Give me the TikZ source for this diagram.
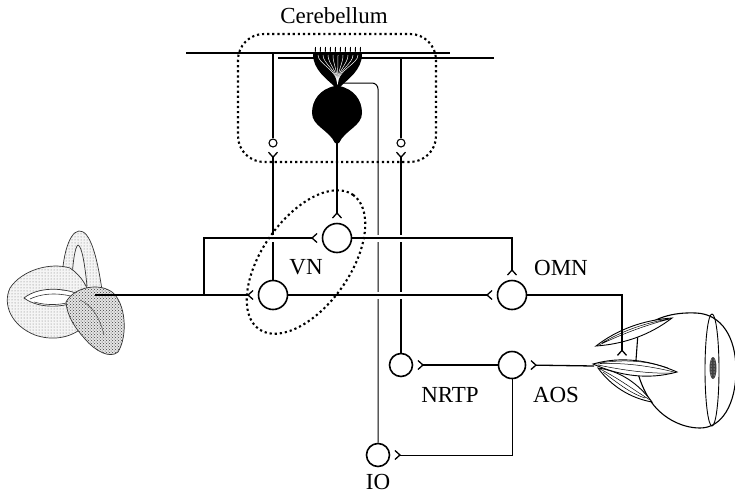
\documentclass[tikz,border=0pt]{standalone}
\usepackage{fontspec}
\setmainfont{Liberation Serif}
\usetikzlibrary{arrows.meta,patterns}
\begin{document}
\begin{tikzpicture}[x=1pt,y=-1pt,
  cell/.style={circle,draw,line width=1.6pt,inner sep=0pt,minimum size=#1},
  cell/.default=29pt,
  granule/.style={circle,draw,line width=1.1pt,inner sep=0pt,minimum size=8pt},
  syn/.style={-{Straight Barb[reversed,length=5pt,width=9pt,line width=1.3pt]},shorten >=4pt},
  gap/.style={preaction={draw=white,line width=7pt,arrows=-,shorten <=#1,shorten >=#1}},
  gap/.default=12pt,
  dotline/.style={line width=2.1pt,dash pattern=on 2.2pt off 2.9pt},
  lbl/.style={font=\fontsize{23}{26}\selectfont,inner sep=0pt},
  axon/.style={line width=2pt},
  fiber/.style={line width=1.3pt},
  thinfiber/.style={line width=1pt},
  tissue/.style={draw=black!80,line width=0.7pt,preaction={fill=black!4},pattern=dots,pattern color=black!55},
  darktissue/.style={draw=black!80,line width=0.7pt,preaction={fill=black!10},pattern=crosshatch dots,pattern color=black!75},
  muscle/.style={draw,fill=white,line width=0.9pt},
]
\useasboundingbox (0,0) rectangle (735,498);

% ---- labyrinth (inner ear) ----
\path[tissue,even odd rule]
  (62,290) .. controls (61,262) and (68,232) .. (79,231) .. controls (90,230) and (97,256) .. (102,290) -- cycle
  (72,286) .. controls (72,266) and (75,246) .. (78,245) .. controls (82,246) and (85,266) .. (87,286) -- cycle;
\path[tissue,even odd rule]
  (70,268) .. controls (50,262) and (22,270) .. (10,288) .. controls (2,305) and (12,326) .. (35,335)
  .. controls (52,341) and (70,338) .. (82,328) .. controls (95,316) and (95,285) .. (70,268) -- cycle
  (24,298) .. controls (40,285) and (70,288) .. (84,297) .. controls (70,308) and (40,310) .. (24,298) -- cycle;
\draw[black!80,line width=0.6pt] (30,299) .. controls (45,292) and (62,293) .. (78,298)
  (34,302) .. controls (48,306) and (62,305) .. (74,301);
\path[darktissue]
  (66,302) .. controls (75,286) and (100,283) .. (112,292) .. controls (126,303) and (128,336) .. (118,352)
  .. controls (110,359) and (95,351) .. (85,339) .. controls (75,328) and (67,316) .. (66,302) -- cycle;
\draw[black!70,line width=0.5pt] (80,300) .. controls (92,305) and (100,318) .. (104,335);

% ---- eye with extra-ocular muscles ----
\draw[line width=1.1pt,fill=white]
  (638,333) .. controls (652,318) and (672,312) .. (696,313) .. controls (722,314) and (736,338) .. (736,370)
  .. controls (736,404) and (722,428) .. (700,428) .. controls (680,428) and (660,416) .. (650,400)
  .. controls (643,390) and (636,372) .. (636,360) -- cycle;
\draw[line width=0.9pt] (712,370) ellipse [x radius=7, y radius=56];
\fill[black!75] (713,368) ellipse [x radius=3.5, y radius=11];
\path[pattern=dots,pattern color=white] (713,368) ellipse [x radius=3.5, y radius=11];
\draw[muscle] (598,368) .. controls (620,371) and (638,383) .. (652,402) .. controls (630,398) and (611,386) .. cycle;
\draw[line width=0.5pt] (600,369) .. controls (618,378) and (634,390) .. (650,400)
                        (603,372) .. controls (620,385) and (632,394) .. (645,398);
\draw[muscle] (593,364) .. controls (621,356) and (650,360) .. (677,372) .. controls (648,380) and (620,376) .. cycle;
\draw[line width=0.5pt] (596,364) .. controls (622,362) and (650,366) .. (674,372)
                        (598,365) .. controls (622,370) and (650,374) .. (672,373)
                        (600,363) .. controls (624,359) and (648,361) .. (668,368);
\draw[muscle] (596,346) .. controls (618,329) and (644,320) .. (672,318) .. controls (650,335) and (624,344) .. cycle;
\draw[line width=0.5pt] (599,345) .. controls (620,335) and (645,325) .. (670,319)
                        (602,343) .. controls (624,330) and (646,323) .. (668,319);

% ---- parallel fibres ----
\coordinate (pf1a) at (186,53);  \coordinate (pf1b) at (450,53);
\coordinate (pf2a) at (278,58);  \coordinate (pf2b) at (494,58);
\draw[fiber] (pf1a) -- (pf1b);
\draw[fiber] (pf2a) -- (pf2b);

% ---- Purkinje cell ----
\fill (313,54) .. controls (313,70) and (327,79) .. (335,87) -- (340,87) .. controls (348,79) and (362,70) .. (362,54) -- cycle;
\foreach \x in {318,323,...,358}
  \draw[white,line width=0.5pt] (337.5,84) .. controls (337.5,70) and (\x,64) .. (\x,55);
\foreach \x in {315,320,...,360}
  \draw[line width=0.9pt] (\x,57) -- (\x+0.5,47);
\fill (335,86) .. controls (320,89) and (312,100) .. (312,113) .. controls (312,126) and (329,130) .. (335,143)
  -- (339,143) .. controls (345,130) and (362,126) .. (362,113) .. controls (362,100) and (354,89) .. (339,86) -- cycle;
\coordinate (neck) at (340,83);
\coordinate (pkax) at (337,140);

% ---- cell bodies ----
\node[cell] (vnU) at (337,238) {};
\node[cell] (vnL) at (273,295) {};
\node[cell] (omn) at (512,295) {};
\node[cell=23pt] (nrtp) at (401,365) {};
\node[cell=27pt] (aos) at (512,365) {};
\node[cell=23pt] (io) at (378,455) {};
\node[granule] (grL) at (273,143) {};
\node[granule] (grR) at (401,143) {};

% ---- vertical fibres ----
\draw[fiber,syn] (vnL.north) -- (grL.south);
\draw[fiber] (grL.north) -- (grL |- pf1a);
\draw[fiber,syn] (nrtp.north) -- (grR.south);
\draw[fiber] (grR.north) -- (grR |- pf2a);
\draw[thinfiber,rounded corners=6pt] (io.north) |- (neck);
\draw[axon,syn] (pkax) -- (vnU.north);

% ---- horizontal connections ----
\coordinate (ear) at (95,295);
\coordinate (split) at (204,295);
\draw[line width=1.5pt,syn,gap=10pt] (split) |- (vnU.west);
\draw[axon,syn,gap=10pt] (vnU.east) -| (omn.north);
\draw[axon,syn,gap] (vnL.east) -- (omn.west);
\draw[line width=2.4pt,-{Straight Barb[reversed,length=5pt,width=9pt,line width=1.3pt]},shorten >=4pt] (ear) -- (vnL.west);

\coordinate (eyeM) at (622,360);
\coordinate (eyeR) at (594,366);
\draw[line width=1.4pt,syn] (omn.east) -| (eyeM);
\draw[fiber,syn] (eyeR) -- (aos.east);
\draw[fiber,syn] (aos.west) -- (nrtp.east);
\draw[thinfiber,syn] (aos.south) |- (io.east);

% ---- regions ----
\draw[dotline,rounded corners=26pt] (238,34) rectangle (436,162);
\draw[dotline,rotate around={55:(306,262)}] (306,262) ellipse [x radius=82, y radius=44];

% ---- labels ----
\node[lbl] (lcb) at (334,16) {Cerebellum};
\node[lbl] (lvn) at (306,267) {VN};
\node[lbl] (lomn) at (561,268) {OMN};
\node[lbl] (lnrtp) at (450,395) {NRTP};
\node[lbl] (laos) at (556,395) {AOS};
\node[lbl] (lio) at (378,482) {IO};
\end{tikzpicture}
\end{document}
